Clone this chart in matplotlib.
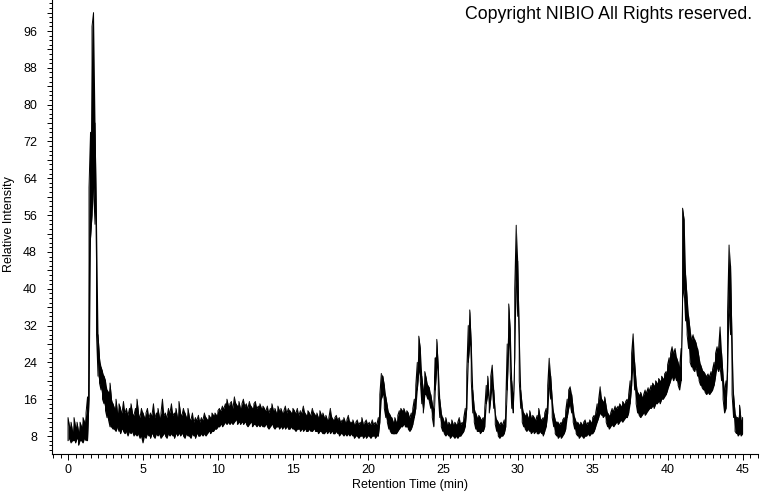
import numpy as np
import matplotlib
matplotlib.use("Agg")
import matplotlib.pyplot as plt
from matplotlib.ticker import MultipleLocator, FuncFormatter

plt.rcParams['font.family'] = ['Liberation Sans', 'DejaVu Sans']

# ---- data: per 0.1 min upper (hi) and lower (lo) envelope of the noisy trace ----
segA_start = 0.0
segA_hi = [12, 10, 11, 9, 12, 10, 11, 9, 11, 10, 12, 11, 13, 16.5, 62, 74, 97, 100, 76, 54, 30]
segA_lo = [7, 7.5, 6.5, 7, 7, 6.5, 7.5, 6, 7, 7, 6.5, 7.5, 7, 7, 16, 51, 56, 62, 54, 30, 21]

segB_start = 2.1
segB_hi = [25, 23, 22, 21, 20, 18, 17.5, 19.5, 16, 15,
           14, 16, 13, 15, 14, 13, 15.5, 13, 14, 12.5, 14, 15, 13, 12.5, 14, 16, 13, 12, 14, 13,
           12, 13, 14, 12, 13, 12.5, 15, 12, 13, 14, 12, 13, 16, 12.5, 13, 12, 14, 13, 15, 12.5,
           13, 14, 12, 15.5, 13, 12.5, 14, 13, 12, 14,
           12, 11.5, 13, 11, 12, 11.5, 12.5, 11, 12, 11.5, 13, 12, 11.5, 12.5, 12, 13, 12.5, 13, 12.5, 13.5]
segB_lo = [19.5, 18, 16, 15, 13.5, 12, 11.5, 10, 10, 9.5,
           9.5, 9, 10, 9, 8.5, 9.5, 9, 8.5, 9, 8, 9, 8.5, 9, 8, 8.5, 8, 8.5, 7.5, 8, 6.5,
           8, 7.5, 8.5, 8, 7.5, 8.5, 8, 7.5, 8.5, 8, 8.5, 7.5, 8, 8.5, 8, 7.5, 8.5, 8, 8.5, 8,
           7.5, 8.5, 8, 8.5, 8, 8.5, 8, 7.5, 8.5, 8,
           8, 7.5, 8.5, 8, 7.5, 8.5, 8, 8, 8.5, 8, 8.5, 8, 8.5, 9, 8.5, 9, 9, 9.5, 9.5, 10]

segC_start = 10.1
segC_hi = [14, 13.5, 14.5, 14, 15, 16, 14.5, 15, 15.5, 14, 16.5, 15, 14.5, 15.5, 14, 15, 16, 14.5, 15, 14,
           15.5, 14.5, 14, 15, 15.5, 14, 14.5, 15, 14, 14.5,
           14, 13.5, 14.5, 13, 14, 15, 13.5, 14, 13, 14.5, 13.5, 14, 13, 13.5, 14.5, 13, 14, 13.5, 13, 14,
           13.5, 13, 14, 12.5, 13.5, 13, 14.5, 13, 12.5, 13.5, 13, 12.5, 14, 13, 12.5, 13, 12, 13.5, 12.5, 13,
           12, 12.5, 11.5, 12, 14, 12, 11.5, 12, 12.5, 11.5, 12, 11, 11.5, 12, 11, 11.5, 12.5, 11, 11, 11.5,
           10.5, 11, 11.5, 10.5, 11, 12, 10.5, 11, 11.5, 10.5, 11, 10.5, 11.5, 10.5, 11, 10.5]
segC_lo = [10, 10.5, 10, 10.5, 11, 10.5, 11, 10.5, 11, 10.5, 11, 11.5, 10.5, 11, 10.5, 11, 10.5, 11, 10.5, 10,
           10.5, 11, 10, 10.5, 10.5, 10, 10.5, 10, 10.5, 10,
           10, 10.5, 10, 9.5, 10, 10.5, 10, 9.5, 10, 10, 9.5, 10, 9.5, 10, 9.5, 10, 9.5, 9.5, 10, 9.5,
           9.5, 9, 9.5, 9.5, 9, 9.5, 9, 9.5, 9, 9, 9.5, 9, 9, 9.5, 9, 9, 8.5, 9, 9, 8.5,
           8.5, 9, 8.5, 9, 8.5, 9, 8.5, 8.5, 9, 8.5, 8, 8.5, 8.5, 8, 8.5, 8, 8.5, 8, 8.5, 8,
           7.5, 8, 8, 7.5, 8, 8, 7.5, 8, 7.5, 8, 8, 7.5, 8, 8, 7.5, 8]

segD_start = 20.7
segD_hi = [12, 17, 21.6, 21, 19, 16.5, 14.5, 13, 12.5, 12,
           11, 12, 11, 12.5, 13.5, 14, 13.5, 14, 13, 13.5,
           13, 12, 13, 14, 16, 19, 24, 29.7, 27, 21,
           18, 22, 20.5, 19, 18.5, 17, 15, 14, 25, 29,
           23, 16, 13, 12, 11, 12, 10.5, 11, 10.5, 11.5,
           10.5, 11, 10.5, 11, 12, 10.5, 11, 12, 14, 22,
           32, 35.4, 28, 18, 14, 13, 12, 12.5, 12, 11.5,
           12, 14, 19, 21, 16, 21, 23.4, 18, 13, 11.5,
           11, 10.5, 11, 10.5, 11.5, 15, 28, 36.7, 31, 20,
           16, 40, 53.8, 46]
segD_lo = [8, 11, 16, 17, 14, 12, 11, 9.5, 9, 8.5,
           8.5, 8.5, 8.5, 9, 9.5, 10, 10, 10.5, 10, 10,
           9.5, 9, 9.5, 10.5, 12, 14, 18, 22, 20, 15,
           13, 17, 17, 16, 15.5, 14, 12, 10, 18, 23,
           17, 12, 10, 9, 8.5, 8, 8.5, 8, 7.5, 8,
           8, 7.5, 8, 7.5, 8, 8, 8.5, 9, 10, 14,
           24, 28, 20, 13, 11, 9.5, 9, 9, 8.5, 9,
           9, 10, 15, 17, 13, 16, 19, 14, 10.5, 9,
           8, 7.5, 8, 8, 8.5, 10, 18, 28, 22, 14,
           13, 25, 42, 34]

segE_start = 30.1
segE_hi = [30, 18, 14.5, 13, 12.5, 13, 12, 13.5, 12, 12.5,
           12, 11.5, 12.5, 14, 12, 11.5, 12, 13, 14, 19,
           24.9, 21, 16, 13, 11.5, 11, 11, 10.5, 11, 11.5,
           12, 13.5, 16, 18, 18.7, 17, 14, 12, 11, 11,
           10.5, 11, 10.5, 11, 11.5, 10.5, 11, 11.5, 11, 12,
           12.5, 13, 15, 16, 18.7, 16, 15.5, 16.5, 14.5, 13,
           12.5, 13, 14, 13.5, 14.5, 14, 14.5, 15, 14.5, 15.5,
           15, 15.5, 16, 17, 20, 26, 30.2, 24, 19.5, 17.5,
           17, 17.5, 16.5, 17, 18, 17.5, 18.5, 18, 19, 19.5,
           19, 20, 19.5, 20.5, 20, 21, 20.5, 21.5, 22, 23.5]
segE_lo = [20, 14, 11, 10, 9.5, 9, 9.5, 9, 8.5, 9,
           8.5, 9, 8.5, 8.5, 9, 8.5, 8, 9, 10, 13,
           19, 16, 12, 10, 8.5, 8, 7.5, 8, 7.5, 8,
           8.5, 9.5, 12, 14, 15, 13, 11, 9.5, 8.5, 8,
           7.5, 8, 8, 7.5, 8, 8, 8.5, 8, 8.5, 8.5,
           9, 10, 11, 12, 13, 12.5, 12, 12.5, 11, 10,
           9.5, 10, 10.5, 10, 10.5, 11, 10.5, 11, 11.5, 11,
           11.5, 12, 12, 13, 15, 19, 24, 18, 15, 13,
           12.5, 12, 12.5, 13, 12.5, 13, 13.5, 14, 14, 14.5,
           14, 15, 15, 15.5, 15, 16, 16, 16.5, 17, 18]

segF_start = 40.1
segF_hi = [25, 26, 27.4, 26, 27, 25, 24, 23, 27, 57.5,
           55, 43, 38, 34, 31, 29, 30, 29, 28.2, 27,
           25, 23.5, 22.5, 22, 21.5, 21, 21.5, 21, 22, 22.5,
           24, 26, 27.4, 27, 31.7, 26, 21, 18, 20, 35,
           49.5, 45, 28, 17, 13, 12, 12, 14.7, 11.5, 12]
segF_lo = [19, 20, 21, 20, 21, 20, 19, 18, 20, 38,
           40, 33, 30, 27, 24, 23, 22.5, 22, 23, 21,
           20, 19, 18.5, 18, 17.5, 17, 17.5, 17, 17.5, 18,
           19, 21, 23, 22, 23, 20, 16, 13, 14, 22,
           36, 30, 17, 12, 9, 8.5, 8, 8.5, 8, 8.5]

x_major_ticks = [0, 5, 10, 15, 20, 25, 30, 35, 40, 45]
y_label_ticks = [8, 16, 24, 32, 40, 48, 56, 64, 72, 80, 88, 96]

# ---- assemble trace ----
starts = [segA_start, segB_start, segC_start, segD_start, segE_start, segF_start]
his = [segA_hi, segB_hi, segC_hi, segD_hi, segE_hi, segF_hi]
los = [segA_lo, segB_lo, segC_lo, segD_lo, segE_lo, segF_lo]
ts, hs, ls = [], [], []
for s, h, l in zip(starts, his, los):
    n = min(len(h), len(l))
    for k in range(n):
        ts.append(s + 0.1 * k)
        hs.append(h[k])
        ls.append(l[k])

xs, ys = [], []
for i, (t, h, l) in enumerate(zip(ts, hs, ls)):
    xs += [t, t]
    ys += [l, h] if i % 2 == 0 else [h, l]

fig = plt.figure(figsize=(7.6, 4.92), dpi=100)
ax = fig.add_axes([52 / 760, 38 / 492, 706 / 760, 454 / 492])
ax.fill_between(ts, ls, hs, color='black', lw=0)
ax.plot(xs, ys, color='black', lw=0.7)

ax.set_xlim(-1.07, 46.03)
ax.set_ylim(4.09, 102.74)

for sp in ['top', 'right']:
    ax.spines[sp].set_visible(False)
for sp in ['left', 'bottom']:
    ax.spines[sp].set_linewidth(0.8)
    ax.spines[sp].set_color('black')

ax.set_xticks(x_major_ticks)
ax.xaxis.set_minor_locator(MultipleLocator(0.5))
ax.yaxis.set_major_locator(MultipleLocator(4))
ax.yaxis.set_minor_locator(MultipleLocator(1))
ax.yaxis.set_major_formatter(FuncFormatter(
    lambda v, p: f"{int(round(v))}" if int(round(v)) in y_label_ticks else ""))

ax.tick_params(axis='x', which='major', direction='out', length=4.5, width=0.7, pad=3,
               labelsize=9)
ax.tick_params(axis='x', which='minor', direction='out', length=3, width=0.7)
ax.tick_params(axis='y', which='major', direction='out', length=3.8, width=0.7, pad=7,
               labelsize=9)
ax.tick_params(axis='y', which='minor', direction='out', length=2.2, width=0.7)

fig.text(410 / 760, 1 - 485 / 492, 'Retention Time (min)', ha='center', va='center', fontsize=9)
fig.text(9 / 760, 1 - 224 / 492, 'Relative Intensity', ha='center', va='center',
         rotation=90, fontsize=9)
fig.text(752 / 760, 1 - 6 / 492, 'Copyright NIBIO All Rights reserved.', ha='right', va='top',
         fontsize=12.8)

fig.savefig('out.png', dpi=100)
